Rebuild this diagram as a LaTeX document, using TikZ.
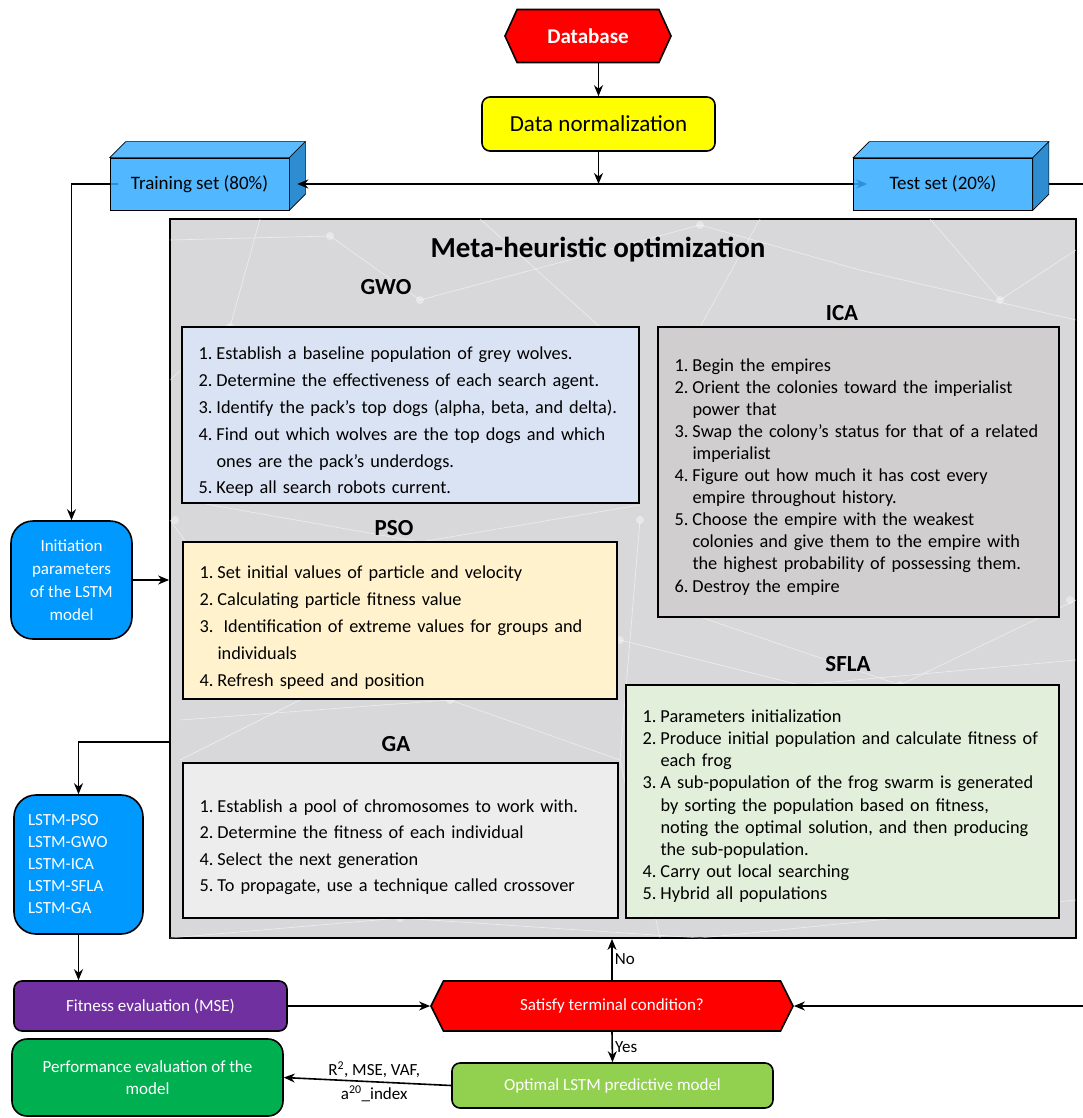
\documentclass[tikz,border=0pt]{standalone}
\usepackage{fontspec}
\setmainfont{Carlito}
\usetikzlibrary{arrows.meta, shapes.symbols, backgrounds}

\definecolor{dbred}{RGB}{255,0,0}
\definecolor{normyellow}{RGB}{255,255,0}
\definecolor{cubefront}{RGB}{51,170,255}
\definecolor{cubetop}{RGB}{92,187,255}
\definecolor{cubeside}{RGB}{46,140,208}
\definecolor{lstmblue}{RGB}{0,153,255}
\definecolor{metagrey}{RGB}{216,216,218}
\definecolor{gwofill}{RGB}{218,227,243}
\definecolor{icafill}{RGB}{208,206,206}
\definecolor{psofill}{RGB}{255,242,204}
\definecolor{sflafill}{RGB}{226,239,218}
\definecolor{gafill}{RGB}{237,237,237}
\definecolor{fitpurple}{RGB}{112,48,160}
\definecolor{perfgreen}{RGB}{0,176,80}
\definecolor{optgreen}{RGB}{146,208,80}

% one numbered step with hanging indent
\newcommand{\stp}[2]{\par\hyphenpenalty=10000\leftskip=4.5pt\hangindent=18pt\hangafter=1\makebox[18pt][l]{#1.}#2}

% top and side faces of a cuboid node
\newcommand{\cubefaces}[1]{%
  \filldraw[fill=cubetop, draw=black, line width=0.6pt] (#1.north west) -- ++(16,-16) -- ([shift={(16,-16)}]#1.north east) -- (#1.north east) -- cycle;
  \filldraw[fill=cubeside, draw=black, line width=0.6pt] (#1.north east) -- ++(16,-16) -- ([shift={(16,-16)}]#1.south east) -- (#1.south east) -- cycle;}

\tikzset{
  boxline/.style={draw=black, line width=1.6pt},
  flowbox/.style={boxline, rounded corners=8pt, text=white, align=center, inner sep=2pt,
    font=\fontsize{17}{22}\selectfont},
  hexbox/.style={boxline, signal, signal to=west and east, fill=dbred, text=white, inner sep=0pt},
  cubebox/.style={draw=black, line width=0.6pt, fill=cubefront, fill opacity=0.85, text opacity=1,
    inner sep=0pt, font=\fontsize{19}{22}\selectfont},
  stepbox/.style={boxline, line width=1.8pt, align=left, inner xsep=12pt, inner ysep=0pt},
  headlabel/.style={inner sep=0pt, font=\fontsize{23}{26}\selectfont\bfseries},
  conn/.style={->, line width=1.6pt},
  netline/.style={white, opacity=0.5, line width=0.7pt},
}

\begin{document}
\begin{tikzpicture}[x=1pt, y=-1pt, >={Stealth[length=11pt, width=9pt, inset=3.5pt]}]
	\useasboundingbox (0,0) rectangle (1083,1118);

	% Data preparation
	\node[hexbox, signal pointer angle=131, minimum width=166pt, minimum height=53pt,
	      font=\fontsize{21}{24}\selectfont\bfseries] (db) at (588,36) {Database};
	\node[boxline, rounded corners=8pt, fill=normyellow, minimum width=233pt, minimum height=54pt,
	      font=\fontsize{23}{26}\selectfont] (norm) at (598.5,124) {Data normalization};
	\node[cubebox, minimum width=179pt, minimum height=52pt] (train) at (199.5,184) {Training set (80\%)};
	\node[cubebox, minimum width=179pt, minimum height=52pt] (test) at (943,184) {Test set (20\%)};
	\cubefaces{train}
	\cubefaces{test}
	\coordinate (split) at (norm.south |- train.east);

	% Meta-heuristic block
	\node[boxline, line width=1.8pt, fill=metagrey, minimum width=906pt, minimum height=719pt,
	      inner sep=0pt] (main) at (623,578.5) {};
	\begin{scope}
		\clip (main.south west) rectangle (main.north east);
		\draw[netline] (170,240) -- (330,236) -- (420,300) -- (700,225) -- (860,270) -- (1076,320);
		\draw[netline] (260,219) -- (230,327) -- (170,380);
		\draw[netline] (480,219) -- (600,327);
		\draw[netline] (760,219) -- (700,327);
		\draw[netline] (930,219) -- (1000,300) -- (1076,250);
		\draw[netline] (170,520) -- (300,700) -- (180,760);
		\draw[netline] (200,503) -- (420,542) -- (640,505);
		\draw[netline] (640,520) -- (620,760) -- (660,938);
		\draw[netline] (620,640) -- (800,685) -- (1076,660);
		\draw[netline] (700,617) -- (900,685) -- (1076,600);
		\draw[netline] (180,720) -- (450,700) -- (620,760);
		\draw[netline] (170,938) -- (400,918) -- (700,938) -- (1076,900);
		\foreach \px/\py in {330/236, 420/300, 700/225, 1000/300, 230/327, 175/520, 640/520, 620/640, 900/685, 450/700, 400/918, 1070/600}
			\fill[white, opacity=0.4] (\px,\py) circle (4pt);
	\end{scope}
	\node[font=\fontsize{29}{32}\selectfont\bfseries, inner sep=0pt] (title) at (598,250) {Meta-heuristic optimization};

	\node[headlabel] (lgwo) at (386,287) {GWO};
	\node[stepbox, fill=gwofill, minimum width=457pt, minimum height=176pt, text width=433pt,
	      font=\fontsize{18.3}{26.8}\selectfont] (gwo) at (410.5,415) {%
		\stp{1}{Establish a baseline population of grey wolves.}
		\stp{2}{Determine the effectiveness of each search agent.}
		\stp{3}{Identify the pack's top dogs (alpha, beta, and delta).}
		\stp{4}{Find out which wolves are the top dogs and which\newline ones are the pack's underdogs.}
		\stp{5}{Keep all search robots current.}\par};

	\node[headlabel] (lica) at (842,313) {ICA};
	\node[stepbox, fill=icafill, minimum width=401pt, minimum height=290pt, text width=377pt,
	      font=\fontsize{18.3}{22.1}\selectfont] (ica) at (858.5,472) {%
		\stp{1}{Begin the empires}
		\stp{2}{Orient the colonies toward the imperialist\newline power that}
		\stp{3}{Swap the colony's status for that of a related\newline imperialist}
		\stp{4}{Figure out how much it has cost every\newline empire throughout history.}
		\stp{5}{Choose the empire with the weakest\newline colonies and give them to the empire with\newline the highest probability of possessing them.}
		\stp{6}{Destroy the empire}\par};

	\node[headlabel] (lpso) at (394,528) {PSO};
	\node[stepbox, fill=psofill, minimum width=434pt, minimum height=157pt, text width=410pt,
	      font=\fontsize{18.3}{26.8}\selectfont] (pso) at (400,620.5) {%
		\stp{1}{Set initial values of particle and velocity}
		\stp{2}{Calculating particle fitness value}
		\stp{3}{\makebox[381pt][s]{\ Identification of extreme values for groups and}\newline individuals}
		\stp{4}{Refresh speed and position}\par};

	\node[headlabel] (lsfla) at (848,664) {SFLA};
	\node[stepbox, fill=sflafill, minimum width=433pt, minimum height=233pt, text width=409pt,
	      font=\fontsize{18.3}{22.1}\selectfont] (sfla) at (842.5,801.5) {%
		\stp{1}{Parameters initialization}
		\stp{2}{Produce initial population and calculate fitness of\newline each frog}
		\stp{3}{A sub-population of the frog swarm is generated\newline by sorting the population based on fitness,\newline noting the optimal solution, and then producing\newline the sub-population.}
		\stp{4}{Carry out local searching}
		\stp{5}{Hybrid all populations}\par};

	\node[headlabel] (lga) at (396,744) {GA};
	\node[stepbox, fill=gafill, minimum width=435pt, minimum height=155pt, text width=411pt,
	      font=\fontsize{18.3}{26.3}\selectfont] (ga) at (400.5,840.5) {%
		\stp{1}{Establish a pool of chromosomes to work with.}
		\stp{2}{Determine the fitness of each individual}
		\stp{4}{Select the next generation}
		\stp{5}{To propagate, use a technique called crossover}\par};

	% LSTM side
	\node[flowbox, rounded corners=22pt, fill=lstmblue, minimum width=121pt, minimum height=118pt,
	      font=\fontsize{17}{23}\selectfont] (init) at (71.5,580) {Initiation\\parameters\\of the LSTM\\model};
	\node[flowbox, rounded corners=22pt, fill=lstmblue, minimum width=129pt, minimum height=139pt,
	      align=left, text width=101pt, inner xsep=14pt] (lstm) at (78.5,864.5) {LSTM-PSO\\LSTM-GWO\\LSTM-ICA\\LSTM-SFLA\\LSTM-GA};
	\coordinate (gaout) at (170,742);

	% Evaluation
	\node[flowbox, fill=fitpurple, minimum width=273pt, minimum height=50pt] (fit) at (150.5,1006) {Fitness evaluation (MSE)};
	\node[hexbox, signal pointer angle=127, minimum width=362pt, minimum height=50pt,
	      font=\fontsize{17}{22}\selectfont] (sat) at (612,1006) {Satisfy terminal condition?};
	\node[flowbox, rounded corners=15pt, fill=perfgreen, minimum width=271pt, minimum height=77pt] (perf) at (147.5,1077.5) {Performance evaluation of the\\model};
	\node[flowbox, fill=optgreen, minimum width=321pt, minimum height=45pt] (opt) at (612.5,1085.5) {Optimal LSTM predictive model};

	% Connectors
	\begin{pgfonlayer}{background}
		\draw[conn] (split) -- ([xshift=14pt]test.west);
		\draw[conn] ([xshift=8pt]train.west) -| (init.north);
	\end{pgfonlayer}
	\draw[conn] (norm.north |- db.south) -- (norm.north);
	\draw[conn] (norm.south) -- (split);
	\draw[conn] (split) -- ([xshift=8pt]train.east);
	\draw[conn] (init.east) -- (init.east -| main.west);
	\draw[conn] (gaout) -| (lstm.north);
	\draw[conn] (lstm.south) -- (lstm.south |- fit.north);
	\draw[conn] (fit.east) -- (sat.west);
	\draw[conn] (sat.north) -- (sat.north |- main.south) node[midway, right, inner sep=2pt, font=\fontsize{17}{20}\selectfont] {No};
	\draw[conn] (sat.south) -- (opt.north) node[midway, right, inner sep=2pt, font=\fontsize{17}{20}\selectfont] {Yes};
	\draw[conn] ([xshift=16pt]test.east) -- ++(60,0) |- (sat.east);
	\draw[conn] (opt.west) -- (perf.east)
		node[pos=0.46, above, inner sep=3pt, font=\fontsize{17}{20}\selectfont] {R\textsuperscript{2}, MSE, VAF,}
		node[pos=0.46, below, inner sep=3pt, font=\fontsize{17}{20}\selectfont] {a\textsuperscript{20}\_index};
\end{tikzpicture}
\end{document}
